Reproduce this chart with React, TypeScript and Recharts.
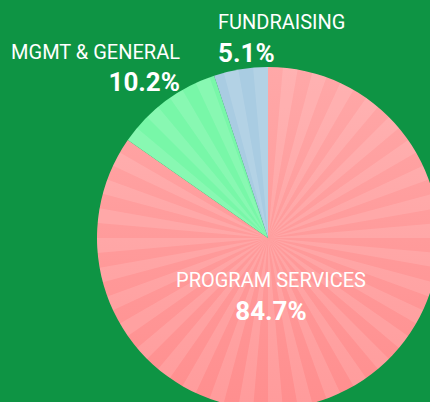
import { Pie, PieChart, Sector } from "recharts";

const categories = ["PROGRAM SERVICES", "MGMT & GENERAL", "FUNDRAISING"];
const shares = [84.7, 10.2, 5.1];
const percentLabels = ["84.7%", "10.2%", "5.1%"];

const SLICE_COLORS = ["url(#pinkFade)", "#78f7a8", "#a9cce2"];
const BG = "#0e9444";
const FONT = "Roboto, 'Noto Sans', sans-serif";

// where each label sits relative to the pie centre, plus its anchor
const LABEL_LAYOUT = [
  { dx: 3, name: 49, pct: 82, anchor: "middle" },
  { dx: -88, name: -179, pct: -147, anchor: "end" },
  { dx: -50, name: -209, pct: -176, anchor: "start" },
] as const;

const STRIPE_DEG = 5;

const data = categories.map((name, i) => ({
  name,
  value: shares[i],
  fill: SLICE_COLORS[i],
}));

function renderLabel(props: any) {
  const { cx, cy, outerRadius, startAngle, endAngle, index } = props;
  const hi = Math.max(startAngle, endAngle);
  const lo = Math.min(startAngle, endAngle);

  // sunburst rays, clipped to the slice
  const rays = [];
  for (let k = 0; k < 360 / STRIPE_DEG; k++) {
    if (k % 2 === 0) continue;
    const a0 = Math.min(90 - k * STRIPE_DEG, hi);
    const a1 = Math.max(90 - (k + 1) * STRIPE_DEG, lo);
    if (a0 <= a1) continue;
    rays.push(
      <Sector
        key={k}
        cx={cx}
        cy={cy}
        innerRadius={0}
        outerRadius={outerRadius}
        startAngle={a0}
        endAngle={a1}
        fill="#ffffff"
        fillOpacity={0.12}
        stroke="none"
      />
    );
  }

  const lay = LABEL_LAYOUT[index];
  return (
    <g key={`lbl-${index}`}>
      {rays}
      <text
        x={cx + lay.dx}
        y={cy + lay.name}
        textAnchor={lay.anchor}
        fill="#ffffff"
        fontFamily={FONT}
        fontSize={20}
      >
        {categories[index]}
      </text>
      <text
        x={cx + lay.dx}
        y={cy + lay.pct}
        textAnchor={lay.anchor}
        fill="#ffffff"
        fontFamily={FONT}
        fontSize={26}
        fontWeight="bold"
      >
        {percentLabels[index]}
      </text>
    </g>
  );
}

export default function App() {
  return (
    <div
      style={{
        position: "fixed",
        top: 0,
        left: 0,
        width: 430,
        height: 402,
        background: BG,
        overflow: "hidden",
      }}
    >
      <PieChart width={430} height={402} margin={{ top: 0, right: 0, bottom: 0, left: 0 }}>
        <defs>
          <linearGradient id="pinkFade" x1="0" y1="0" x2="0" y2="1">
            <stop offset="0%" stopColor="#ffa8a8" />
            <stop offset="100%" stopColor="#ff8e8e" />
          </linearGradient>
        </defs>
        <Pie
          data={data}
          dataKey="value"
          nameKey="name"
          cx={268}
          cy={238}
          outerRadius={171}
          startAngle={90}
          endAngle={-270}
          stroke="none"
          labelLine={false}
          label={renderLabel}
          isAnimationActive={false}
        />
      </PieChart>
    </div>
  );
}
